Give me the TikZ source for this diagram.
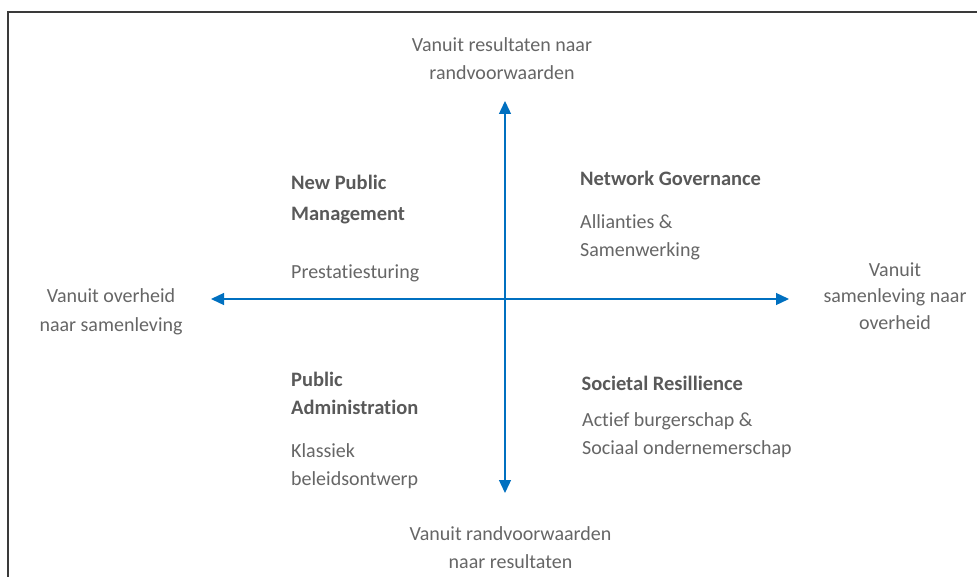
\documentclass[tikz,border=0pt]{standalone}
\usepackage{fontspec}
\setmainfont[Ligatures={NoCommon}]{Carlito}
\usetikzlibrary{arrows.meta}
\definecolor{axisblue}{HTML}{0070C0}
\definecolor{txtgray}{HTML}{666666}
\definecolor{headgray}{HTML}{595959}
\definecolor{framegray}{HTML}{3A3A3A}
\tikzset{
  lbl/.style={inner sep=0pt, text=txtgray, font=\fontsize{20}{28}\selectfont, align=center, anchor=base},
  quad/.style={inner sep=0pt, text=txtgray, font=\fontsize{20}{28}\selectfont, align=left, anchor=base west},
  head/.style={inner sep=0pt, text=headgray, font=\fontsize{20.5}{28}\selectfont\bfseries, align=left, anchor=base west},
  axis/.style={draw=axisblue, line width=1.3pt},
  tip/.tip={Triangle[length=13pt,width=12pt]},
}
\begin{document}
\begin{tikzpicture}[x=1pt,y=-1pt]
\useasboundingbox (0,0) rectangle (977,577);
\fill[white] (0,0) rectangle (977,577);
% frame
\draw[framegray, line width=1.6pt] (8,580) -- (8,12) -- (980,12);
% axes
\coordinate (L) at (211,299);
\coordinate (R) at (789,299);
\coordinate (T) at (505,101);
\coordinate (B) at (505,493);
\draw[axis, tip-tip] (L) -- (R);
\draw[axis, tip-tip] (T) -- (B);
% axis labels (anchor = baseline of the last line)
\node[lbl] (top) at (502,80) {Vanuit resultaten naar\\randvoorwaarden};
\node[lbl] (bottom) at (510.5,568) {Vanuit randvoorwaarden\\naar resultaten};
\node[lbl] (left) at (111,331.5) {Vanuit overheid\\[1.5pt]naar samenleving};
\node[lbl] (right) at (895,329) {Vanuit\\[-2pt]samenleving naar\\[-2pt]overheid};
% quadrants
\node[head] (npmh) at (291,221) {New Public\\[3.5pt]Management};
\node[quad] (npm) at (291,278.3) {Prestatiesturing};
\node[head] (ngh) at (580,186) {Network Governance};
\node[quad] (ng) at (580,257) {Allianties \&\\Samenwerking};
\node[head] (pah) at (291,414) {Public\\Administration};
\node[quad] (pa) at (291,485) {Klassiek\\beleidsontwerp};
\node[head] (srh) at (581.5,390) {Societal Resillience};
\node[quad] (sr) at (582,454.3) {Actief burgerschap \&\\Sociaal ondernemerschap};
\end{tikzpicture}
\end{document}
